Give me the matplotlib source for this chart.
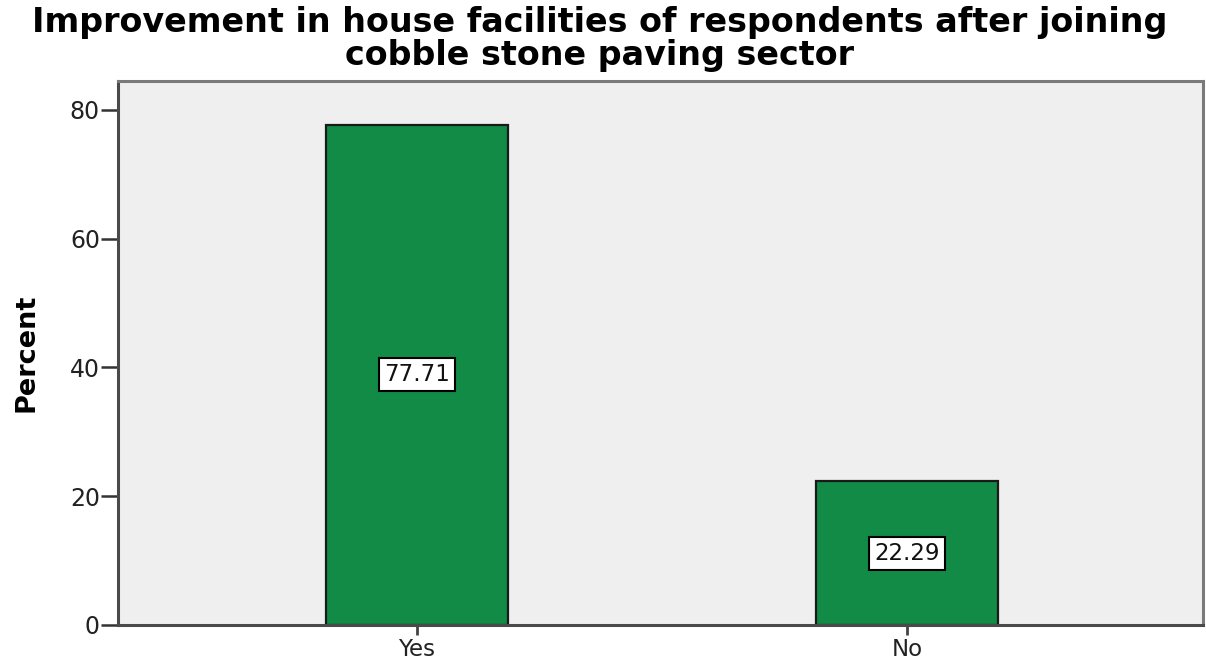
import matplotlib
matplotlib.use("Agg")
import matplotlib.pyplot as plt

categories = ["Yes", "No"]
percent = [77.71, 22.29]
value_labels = ["77.71", "22.29"]
yticks = [0, 20, 40, 60, 80]
title = "Improvement in house facilities of respondents after joining\ncobble stone paving sector"

plt.rcParams['font.family'] = ['DejaVu Sans']

fig = plt.figure(figsize=(12.06, 6.64), dpi=100)
ax = fig.add_axes([118/1206, 1-625/664, (1203-118)/1206, (625-81)/664])
ax.set_facecolor('#EFEFEF')

x = list(range(len(categories)))
ax.bar(x, percent, width=0.37, color='#118B46', edgecolor='#1a1a1a', linewidth=1.6, zorder=2)
for xi, v, lab in zip(x, percent, value_labels):
    ax.text(xi, v/2, lab, ha='center', va='center', fontsize=16.5, color='#111111', zorder=3,
            bbox=dict(boxstyle='square,pad=0.22', facecolor='white', edgecolor='black', linewidth=1.5))

ax.set_xlim(-0.61, 1.604)
ax.set_ylim(0, 84.5)
ax.set_xticks(x)
ax.set_xticklabels(categories, fontsize=16.5)
ax.set_yticks(yticks)
ax.set_yticklabels([str(t) for t in yticks], fontsize=17)
ax.tick_params(axis='x', length=7, width=2, color='#444444', labelcolor='#222222', pad=2)
ax.tick_params(axis='y', length=12, width=1.8, color='#333333', labelcolor='#222222', pad=1)

for side in ['left', 'bottom']:
    ax.spines[side].set_color('#4a4a4a')
    ax.spines[side].set_linewidth(2.2)
for side in ['top', 'right']:
    ax.spines[side].set_color('#7a7a7a')
    ax.spines[side].set_linewidth(2.2)

ax.set_ylabel('Percent', fontsize=19.5, fontweight='bold', labelpad=22)
fig.text(0.497, 1-39/664, title, ha='center', va='center', fontsize=24, fontweight='bold',
         linespacing=1.0)

fig.savefig('out.png', dpi=100)
